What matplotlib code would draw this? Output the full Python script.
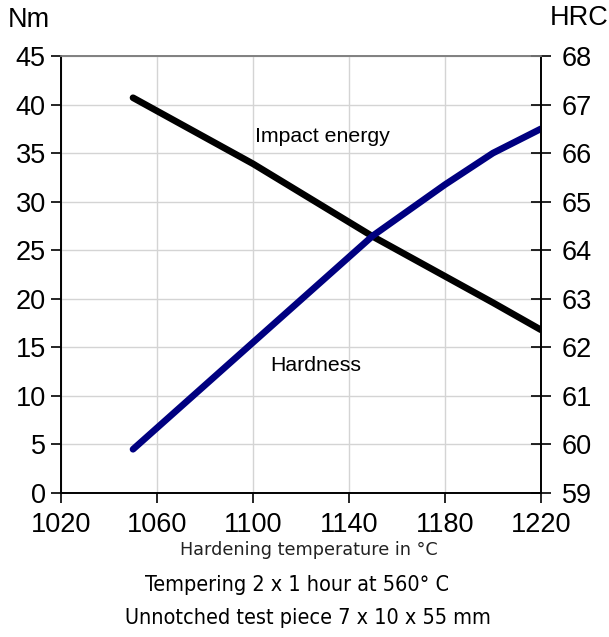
import matplotlib.pyplot as plt

temp_impact = [1050, 1100, 1150, 1200, 1220]
impact_nm = [40.7, 33.9, 26.4, 19.6, 16.8]

temp_hard = [1050, 1100, 1150, 1180, 1200, 1220]
hardness_hrc = [59.9, 62.1, 64.3, 65.35, 66.0, 66.5]

x_ticks = [1020, 1060, 1100, 1140, 1180, 1220]
nm_ticks = list(range(0, 50, 5))
hrc_ticks = list(range(59, 69))

plt.rcParams['font.family'] = ['Liberation Sans', 'DejaVu Sans']

fig = plt.figure(figsize=(6.09, 6.37), dpi=100)
ax = fig.add_axes([0.1002, 0.2261, 0.788, 0.6860])
ax2 = ax.twinx()

ax.plot(temp_impact, impact_nm, color='black', lw=4.8, solid_capstyle='round')
ax2.plot(temp_hard, hardness_hrc, color='#000080', lw=4.8, solid_capstyle='round')

ax.set_xlim(1020, 1220)
ax.set_ylim(0, 45)
ax2.set_ylim(59, 68)
ax.set_xticks(x_ticks)
ax.set_yticks(nm_ticks)
ax2.set_yticks(hrc_ticks)

ax.grid(True, color='#d4d4d4', lw=1)
ax.set_axisbelow(True)

for a in (ax, ax2):
    a.spines['top'].set_color('#808080')
    a.spines['top'].set_linewidth(1.2)
    for s in ('left', 'right', 'bottom'):
        a.spines[s].set_color('black')
        a.spines[s].set_linewidth(1.2)

ax.tick_params(axis='y', direction='out', length=7, width=1.2, labelsize=19.5, pad=4)
ax.tick_params(axis='x', direction='out', length=7, width=1.2, labelsize=19.5, pad=7)
ax2.tick_params(axis='y', direction='inout', length=14, width=1.2, labelsize=19.5, pad=8)

fig.text(0.013, 0.968, 'Nm', fontsize=19.5, ha='left', va='center')
fig.text(0.903, 0.972, 'HRC', fontsize=19.5, ha='left', va='center')

ax.text(1101, 36.7, 'Impact energy', fontsize=15.3, ha='left', va='center')
ax.text(1107, 13.1, 'Hardness', fontsize=15.3, ha='left', va='center')

fig.text(0.508, 0.136, 'Hardening temperature in °C', fontsize=12.7, ha='center', va='center',
         color='#222222', family=['DejaVu Sans'])
fig.text(0.488, 0.082, 'Tempering 2 x 1 hour at 560° C', fontsize=15.5, ha='center', va='center',
         family=['DejaVu Sans'], fontstretch='condensed')
fig.text(0.506, 0.030, 'Unnotched test piece 7 x 10 x 55 mm', fontsize=15.5, ha='center', va='center',
         family=['DejaVu Sans'], fontstretch='condensed')

fig.savefig('out.png', dpi=100)
